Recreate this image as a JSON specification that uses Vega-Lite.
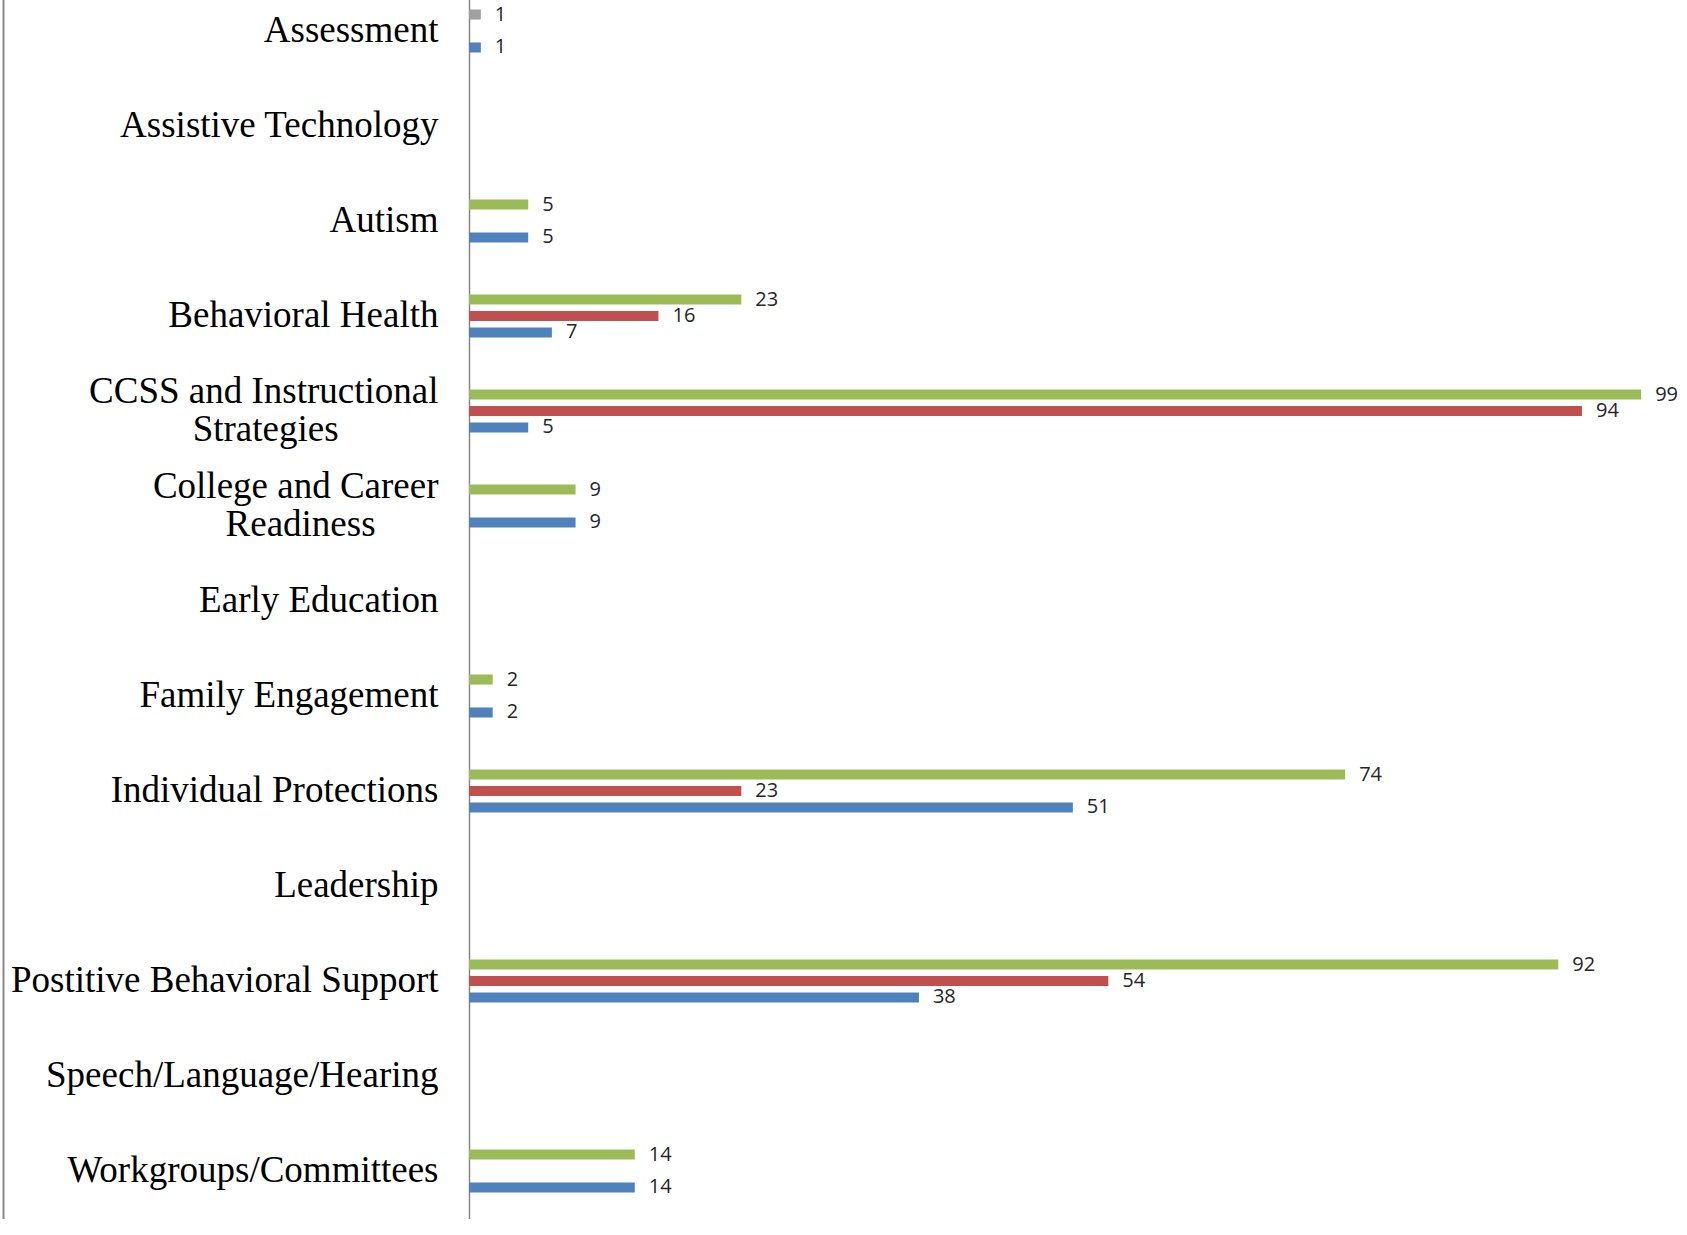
{
  "$schema": "https://vega.github.io/schema/vega-lite/v6.json",
  "width": 1184,
  "height": 1235,
  "autosize": {"type": "none"},
  "padding": {"left": 469, "top": 0, "right": 34, "bottom": 0},
  "background": "white",
  "config": {"view": {"stroke": null}},
  "data": {
    "values": [
      {"topic": "Assessment", "series": "Series 4", "slot": "1", "count": 1},
      {"topic": "Assessment", "series": "Series 3", "slot": "3", "count": 1},
      {"topic": "Autism", "series": "Series 1", "slot": "1", "count": 5},
      {"topic": "Autism", "series": "Series 3", "slot": "3", "count": 5},
      {"topic": "Behavioral Health", "series": "Series 1", "slot": "1", "count": 23},
      {"topic": "Behavioral Health", "series": "Series 2", "slot": "2", "count": 16},
      {"topic": "Behavioral Health", "series": "Series 3", "slot": "3", "count": 7},
      {"topic": "CCSS and Instructional Strategies", "series": "Series 1", "slot": "1", "count": 99},
      {"topic": "CCSS and Instructional Strategies", "series": "Series 2", "slot": "2", "count": 94},
      {"topic": "CCSS and Instructional Strategies", "series": "Series 3", "slot": "3", "count": 5},
      {"topic": "College and Career Readiness", "series": "Series 1", "slot": "1", "count": 9},
      {"topic": "College and Career Readiness", "series": "Series 3", "slot": "3", "count": 9},
      {"topic": "Family Engagement", "series": "Series 1", "slot": "1", "count": 2},
      {"topic": "Family Engagement", "series": "Series 3", "slot": "3", "count": 2},
      {"topic": "Individual Protections", "series": "Series 1", "slot": "1", "count": 74},
      {"topic": "Individual Protections", "series": "Series 2", "slot": "2", "count": 23},
      {"topic": "Individual Protections", "series": "Series 3", "slot": "3", "count": 51},
      {"topic": "Postitive Behavioral Support", "series": "Series 1", "slot": "1", "count": 92},
      {"topic": "Postitive Behavioral Support", "series": "Series 2", "slot": "2", "count": 54},
      {"topic": "Postitive Behavioral Support", "series": "Series 3", "slot": "3", "count": 38},
      {"topic": "Workgroups/Committees", "series": "Series 1", "slot": "1", "count": 14},
      {"topic": "Workgroups/Committees", "series": "Series 3", "slot": "3", "count": 14}
    ]
  },
  "layer": [
    {
      "mark": {"type": "bar"},
      "encoding": {
        "y": {
          "field": "topic", "type": "nominal",
          "scale": {
            "domain": ["Assessment", "Assistive Technology", "Autism", "Behavioral Health", "CCSS and Instructional Strategies", "College and Career Readiness", "Early Education", "Family Engagement", "Individual Protections", "Leadership", "Postitive Behavioral Support", "Speech/Language/Hearing", "Workgroups/Committees"],
            "range": [-16.5, 1218.5], "paddingInner": 0.2, "paddingOuter": 0.1
          },
          "axis": {
            "title": null, "ticks": false, "grid": false,
            "domain": true, "domainColor": "#868686", "domainWidth": 1.5,
            "labelFont": "Liberation Serif", "labelFontSize": 37, "labelColor": "#000000",
            "labelPadding": 31, "labelLimit": 0, "labelLineHeight": 38,
            "labelOffset": {"condition": {"test": "datum.value == 'CCSS and Instructional Strategies' || datum.value == 'College and Career Readiness'", "value": -19}, "value": 0},
            "labelExpr": "datum.value == 'CCSS and Instructional Strategies' ? ['CCSS and Instructional', 'Strategies\u2002\u2002\u2002\u2002\u2002\u2009\u200b'] : datum.value == 'College and Career Readiness' ? ['College and Career', 'Readiness\u2002\u2002\u2002\u2009\u200b'] : datum.value"
          }
        },
        "yOffset": {"field": "slot", "type": "nominal", "scale": {"domain": ["1", "2", "3"], "paddingInner": 0.39, "paddingOuter": 1}},
        "x": {"field": "count", "type": "quantitative", "scale": {"domain": [0, 100], "nice": false, "zero": true}, "axis": null},
        "color": {
          "field": "series", "type": "nominal",
          "scale": {"domain": ["Series 1", "Series 2", "Series 3", "Series 4"], "range": ["#9BBB59", "#C0504D", "#4F81BD", "#A0A0A0"]},
          "legend": null
        }
      }
    },
    {
      "mark": {"type": "text", "align": "left", "baseline": "middle", "dx": 14, "font": "Open Sans", "fontSize": 20, "color": "#262626"},
      "encoding": {
        "y": {
          "field": "topic", "type": "nominal",
          "scale": {
            "domain": ["Assessment", "Assistive Technology", "Autism", "Behavioral Health", "CCSS and Instructional Strategies", "College and Career Readiness", "Early Education", "Family Engagement", "Individual Protections", "Leadership", "Postitive Behavioral Support", "Speech/Language/Hearing", "Workgroups/Committees"],
            "range": [-16.5, 1218.5], "paddingInner": 0.2, "paddingOuter": 0.1
          },
          "axis": {"orient": "left", "offset": 466, "title": null, "labels": false, "ticks": false, "grid": false, "domain": true, "domainColor": "#8a8a8a", "domainWidth": 2}
        },
        "yOffset": {"field": "slot", "type": "nominal", "scale": {"domain": ["1", "2", "3"], "paddingInner": 0.39, "paddingOuter": 1}},
        "x": {"field": "count", "type": "quantitative", "scale": {"domain": [0, 100], "nice": false, "zero": true}, "axis": null},
        "text": {"field": "count", "type": "quantitative"}
      }
    }
  ],
  "resolve": {"axis": {"y": "independent"}}
}
